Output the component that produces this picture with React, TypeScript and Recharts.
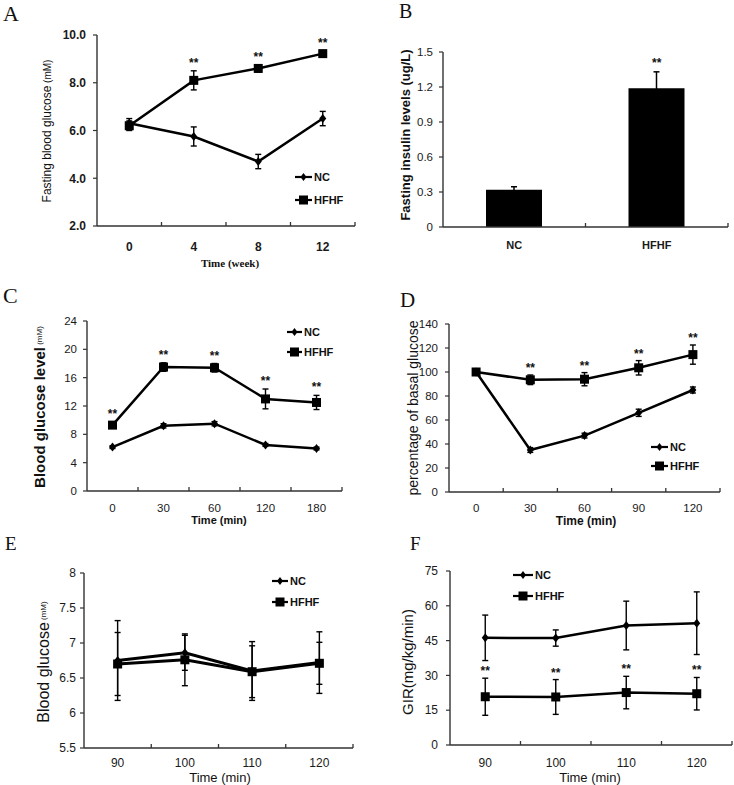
import React from 'react';
import { ComposedChart, Line, Bar, XAxis, YAxis, ErrorBar } from 'recharts';

const FONT = '"Liberation Sans", Arial, sans-serif';
const SERIF = '"Liberation Serif", "Times New Roman", serif';
const AX = '#333';

// ---------- Panel A: fasting blood glucose ----------
const aWeeks = ['0', '4', '8', '12'];
const aNC = [6.3, 5.75, 4.7, 6.5];
const aNCErr = [0.2, 0.4, 0.3, 0.3];
const aHF = [6.2, 8.1, 8.6, 9.22];
const aHFErr = [0.2, 0.4, 0.15, 0.1];
const aStars = ['', '**', '**', '**'];
const aTicks = [2, 4, 6, 8, 10];

// ---------- Panel B: fasting insulin ----------
const bGroups = ['NC', 'HFHF'];
const bVals = [0.32, 1.19];
const bErr = [0.025, 0.14];
const bStars = ['', '**'];
const bTicks = [0, 0.3, 0.6, 0.9, 1.2, 1.5];

// ---------- Panel C: OGTT ----------
const cTimes = ['0', '30', '60', '120', '180'];
const cNC = [6.2, 9.2, 9.5, 6.5, 6.0];
const cNCErr = [0.2, 0.3, 0.3, 0.2, 0.2];
const cHF = [9.3, 17.5, 17.4, 13.0, 12.5];
const cHFErr = [0.4, 0.6, 0.6, 1.4, 1.0];
const cStars = ['**', '**', '**', '**', '**'];
const cTicks = [0, 4, 8, 12, 16, 20, 24];

// ---------- Panel D: ITT ----------
const dTimes = ['0', '30', '60', '90', '120'];
const dNC = [100, 35, 47, 66, 85];
const dNCErr = [0, 2, 2, 3, 2.5];
const dHF = [100, 93.5, 94, 103.5, 114.5];
const dHFErr = [0, 4, 5.5, 6, 8];
const dStars = ['', '**', '**', '**', '**'];
const dTicks = [0, 20, 40, 60, 80, 100, 120, 140];

// ---------- Panel E: clamp blood glucose ----------
const eTimes = ['90', '100', '110', '120'];
const eNC = [6.75, 6.86, 6.6, 6.72];
const eNCErr = [0.57, 0.25, 0.42, 0.44];
const eHF = [6.7, 6.76, 6.59, 6.71];
const eHFErr = [0.45, 0.37, 0.37, 0.3];
const eStars = ['', '', '', ''];
const eTicks = [5.5, 6, 6.5, 7, 7.5, 8];

// ---------- Panel F: GIR ----------
const fTimes = ['90', '100', '110', '120'];
const fNC = [46.2, 46.1, 51.5, 52.5];
const fNCErr = [9.8, 3.5, 10.5, 13.5];
const fHF = [20.8, 20.7, 22.6, 22.1];
const fHFErr = [8, 7.5, 7, 7];
const fStars = ['**', '**', '**', '**'];
const fTicks = [0, 15, 30, 45, 60, 75];

const rows = (t: string[], nc: number[], ncE: number[], hf: number[], hfE: number[], st: string[]) =>
  t.map((x, i) => ({ t: x, nc: nc[i], ncErr: ncE[i], hf: hf[i], hfErr: hfE[i], starY: hf[i] + hfE[i], star: st[i] }));

const aData = rows(aWeeks, aNC, aNCErr, aHF, aHFErr, aStars);
const cData = rows(cTimes, cNC, cNCErr, cHF, cHFErr, cStars);
const dData = rows(dTimes, dNC, dNCErr, dHF, dHFErr, dStars);
const eData = rows(eTimes, eNC, eNCErr, eHF, eHFErr, eStars);
const fData = rows(fTimes, fNC, fNCErr, fHF, fHFErr, fStars);
const bData = bGroups.map((g, i) => ({ t: g, v: bVals[i], err: bErr[i], starY: bVals[i] + bErr[i], star: bStars[i] }));

function XTick(props: any) {
  const { x, y, payload, bw, labelDy, fs, fw } = props;
  return (
    <g>
      <line x1={x + bw / 2} x2={x + bw / 2} y1={y} y2={y - 4} stroke={AX} strokeWidth={1.3} />
      <text x={x} y={y + labelDy} textAnchor="middle" dominantBaseline="central" fontSize={fs} fontWeight={fw} fontFamily={FONT} fill="#1a1a1a">
        {payload.value}
      </text>
    </g>
  );
}

const diamond = (p: any) => {
  const k = `d-${p.index}`;
  if (p.cx == null || p.cy == null) return <g key={k} />;
  return <polygon key={k} points={`${p.cx},${p.cy - 4.5} ${p.cx + 3.5},${p.cy} ${p.cx},${p.cy + 4.5} ${p.cx - 3.5},${p.cy}`} fill="#000" />;
};
const square = (p: any) => {
  const k = `s-${p.index}`;
  if (p.cx == null || p.cy == null) return <g key={k} />;
  return <rect key={k} x={p.cx - 4.5} y={p.cy - 4.5} width={9} height={9} fill="#000" />;
};
const starDot = (pad: number, fs: number) => (p: any) => (
  <text key={`st-${p.index}`} x={p.cx} y={p.cy - pad} textAnchor="middle" fontSize={fs} fontWeight="bold" fontFamily={FONT} fill="#111">
    {p.payload.star}
  </text>
);

type Box = { x: number; y: number; w: number; h: number };
type Plot = { l: number; r: number; t: number; b: number };

function LinePanel(props: {
  box: Box; plot: Plot; data: any[]; domain: [number, number]; ticks: number[];
  fmt?: (v: number) => string; xDy: number; yOff: number; fs: number; fw: string; lineW: number; starPad: number;
}) {
  const { box, plot, data, domain, ticks, fmt, xDy, yOff, fs, fw, lineW, starPad } = props;
  const bw = (plot.r - plot.l) / data.length;
  return (
    <div style={{ position: 'absolute', left: box.x, top: box.y }}>
      <ComposedChart
        width={box.w}
        height={box.h}
        data={data}
        margin={{ top: plot.t - box.y, right: box.x + box.w - plot.r, bottom: 0, left: 0 }}
      >
        <XAxis
          dataKey="t"
          scale="band"
          interval={0}
          tickSize={0}
          tickMargin={0}
          height={box.y + box.h - plot.b}
          axisLine={{ stroke: AX, strokeWidth: 1.4 }}
          tickLine={false}
          tick={(p: any) => <XTick {...p} bw={bw} labelDy={xDy} fs={fs} fw={fw} />}
        />
        <YAxis
          width={plot.l - box.x}
          domain={domain}
          ticks={ticks}
          allowDataOverflow
          interval={0}
          tickFormatter={fmt}
          tickSize={4}
          tickMargin={yOff - 4}
          axisLine={{ stroke: AX, strokeWidth: 1.4 }}
          tickLine={{ stroke: AX, strokeWidth: 1.2 }}
          tick={{ fontSize: fs, fill: '#1a1a1a', fontFamily: FONT, fontWeight: fw }}
        />
        <Line dataKey="nc" stroke="#000" strokeWidth={lineW} dot={diamond} activeDot={false} isAnimationActive={false}>
          <ErrorBar dataKey="ncErr" width={3} stroke="#000" strokeWidth={1.4} direction="y" />
        </Line>
        <Line dataKey="hf" stroke="#000" strokeWidth={lineW} dot={square} activeDot={false} isAnimationActive={false}>
          <ErrorBar dataKey="hfErr" width={3} stroke="#000" strokeWidth={1.4} direction="y" />
        </Line>
        <Line dataKey="starY" stroke="none" dot={starDot(starPad, 12)} activeDot={false} isAnimationActive={false} legendType="none" />
      </ComposedChart>
    </div>
  );
}

function BPanel() {
  const box = { x: 370, y: 0, w: 364, h: 280 };
  const plot = { l: 443, r: 728, t: 52, b: 227 };
  const bw = (plot.r - plot.l) / bData.length;
  return (
    <div style={{ position: 'absolute', left: box.x, top: box.y }}>
      <ComposedChart
        width={box.w}
        height={box.h}
        data={bData}
        margin={{ top: plot.t - box.y, right: box.x + box.w - plot.r, bottom: 0, left: 0 }}
      >
        <XAxis
          dataKey="t"
          scale="band"
          interval={0}
          tickSize={0}
          tickMargin={0}
          height={box.y + box.h - plot.b}
          axisLine={{ stroke: AX, strokeWidth: 1.4 }}
          tickLine={false}
          tick={(p: any) => <XTick {...p} bw={bw} labelDy={18} fs={11} fw="bold" />}
        />
        <YAxis
          width={plot.l - box.x}
          domain={[0, 1.5]}
          ticks={bTicks}
          allowDataOverflow
          interval={0}
          tickSize={4}
          tickMargin={6}
          axisLine={{ stroke: AX, strokeWidth: 1.4 }}
          tickLine={{ stroke: AX, strokeWidth: 1.2 }}
          tick={{ fontSize: 11.5, fill: '#1a1a1a', fontFamily: FONT }}
        />
        <Bar dataKey="v" fill="#000" barSize={56} isAnimationActive={false}>
          <ErrorBar dataKey="err" width={3} stroke="#000" strokeWidth={1.5} direction="y" />
        </Bar>
        <Line dataKey="starY" stroke="none" dot={starDot(5, 12)} activeDot={false} isAnimationActive={false} legendType="none" />
      </ComposedChart>
    </div>
  );
}

function LegendRows(props: { x0: number; x1: number; y1: number; y2: number; fs?: number }) {
  const { x0, x1, y1, y2 } = props;
  const fs = props.fs ?? 11;
  const m = (x0 + x1) / 2;
  return (
    <g>
      <line x1={x0} x2={x1} y1={y1} y2={y1} stroke="#000" strokeWidth={2.2} />
      <polygon points={`${m},${y1 - 4} ${m + 3},${y1} ${m},${y1 + 4} ${m - 3},${y1}`} fill="#000" />
      <text x={x1 + 2} y={y1} dominantBaseline="central" fontSize={fs} fontWeight="bold" fontFamily={FONT} fill="#111">NC</text>
      <line x1={x0} x2={x1} y1={y2} y2={y2} stroke="#000" strokeWidth={2.2} />
      <rect x={m - 4.5} y={y2 - 4.5} width={9} height={9} fill="#000" />
      <text x={x1 + 2} y={y2} dominantBaseline="central" fontSize={fs} fontWeight="bold" fontFamily={FONT} fill="#111">HFHF</text>
    </g>
  );
}

function VTitle(props: { cx: number; cy: number; children: React.ReactNode; fs: number; fw?: string }) {
  const { cx, cy, children, fs, fw } = props;
  return (
    <text
      x={cx}
      y={cy}
      transform={`rotate(-90, ${cx}, ${cy})`}
      textAnchor="middle"
      dominantBaseline="central"
      fontSize={fs}
      fontWeight={fw ?? 'normal'}
      fontFamily={FONT}
      fill="#111"
    >
      {children}
    </text>
  );
}

function Overlay() {
  const letter = (t: string, x: number, y: number, fs: number) => (
    <text x={x} y={y} fontSize={fs} fontFamily={SERIF} fill="#111">{t}</text>
  );
  const xTitle = (t: string, x: number, y: number, fs: number, fw: string, fam = FONT) => (
    <text x={x} y={y} textAnchor="middle" dominantBaseline="central" fontSize={fs} fontWeight={fw} fontFamily={fam} fill="#111">{t}</text>
  );
  return (
    <svg width={734} height={785} style={{ position: 'absolute', left: 0, top: 0, pointerEvents: 'none' }}>
      {letter('A', 3, 21, 22)}
      {letter('B', 399, 18, 20)}
      {letter('C', 3, 303, 22)}
      {letter('D', 400, 307, 21)}
      {letter('E', 5, 550, 19)}
      {letter('F', 410, 550, 19)}

      <VTitle cx={47} cy={131} fs={12}>
        Fasting blood glucose<tspan fontSize={10}>{'  (mM)'}</tspan>
      </VTitle>
      <VTitle cx={405} cy={135} fs={13} fw="bold">Fasting insulin levels (ug/L)</VTitle>
      <VTitle cx={39} cy={407} fs={15} fw="bold">
        Blood glucose level<tspan fontSize={8} fontWeight="normal">{' (mM)'}</tspan>
      </VTitle>
      <VTitle cx={413} cy={408} fs={14}>percentage of basal glucose</VTitle>
      <VTitle cx={43} cy={662} fs={16}>
        Blood glucose<tspan fontSize={8}>{' (mM)'}</tspan>
      </VTitle>
      <VTitle cx={407} cy={662} fs={15}>GIR(mg/kg/min)</VTitle>

      {xTitle('Time (week)', 230, 263, 11, 'bold', SERIF)}
      {xTitle('Time (min)', 219, 520, 11, 'bold')}
      {xTitle('Time (min)', 586, 521, 12, 'bold')}
      {xTitle('Time (min)', 220, 777, 13, 'normal')}
      {xTitle('Time (min)', 590, 777, 13, 'normal')}

      <LegendRows x0={295} x1={312} y1={177} y2={200} />
      <LegendRows x0={287} x1={302} y1={332} y2={352} />
      <LegendRows x0={651} x1={668} y1={447} y2={466} />
      <LegendRows x0={272} x1={288} y1={581} y2={602} />
      <LegendRows x0={513} x1={533} y1={575} y2={596} />
    </svg>
  );
}

export default function App() {
  return (
    <div style={{ position: 'absolute', left: 0, top: 0, width: 734, height: 785, background: '#fff', overflow: 'hidden' }}>
      <LinePanel
        box={{ x: 0, y: 0, w: 370, h: 280 }}
        plot={{ l: 97, r: 355, t: 35, b: 226 }}
        data={aData}
        domain={[2, 10]}
        ticks={aTicks}
        fmt={(v) => v.toFixed(1)}
        xDy={21}
        yOff={11}
        fs={12}
        fw="bold"
        lineW={2.5}
        starPad={4}
      />
      <BPanel />
      <LinePanel
        box={{ x: 0, y: 280, w: 370, h: 240 }}
        plot={{ l: 87, r: 342, t: 321, b: 491 }}
        data={cData}
        domain={[0, 24]}
        ticks={cTicks}
        xDy={17}
        yOff={10}
        fs={11.5}
        fw="normal"
        lineW={2.5}
        starPad={4}
      />
      <LinePanel
        box={{ x: 370, y: 280, w: 364, h: 240 }}
        plot={{ l: 449, r: 720, t: 324, b: 492 }}
        data={dData}
        domain={[0, 140]}
        ticks={dTicks}
        xDy={16}
        yOff={11}
        fs={11.5}
        fw="normal"
        lineW={2.5}
        starPad={3}
      />
      <LinePanel
        box={{ x: 0, y: 520, w: 370, h: 265 }}
        plot={{ l: 84, r: 353, t: 573, b: 748 }}
        data={eData}
        domain={[5.5, 8]}
        ticks={eTicks}
        xDy={15}
        yOff={8}
        fs={12}
        fw="normal"
        lineW={3}
        starPad={4}
      />
      <LinePanel
        box={{ x: 370, y: 520, w: 364, h: 265 }}
        plot={{ l: 450, r: 732, t: 571, b: 745 }}
        data={fData}
        domain={[0, 75]}
        ticks={fTicks}
        xDy={18}
        yOff={12}
        fs={12}
        fw="normal"
        lineW={2.5}
        starPad={3}
      />
      <Overlay />
    </div>
  );
}
